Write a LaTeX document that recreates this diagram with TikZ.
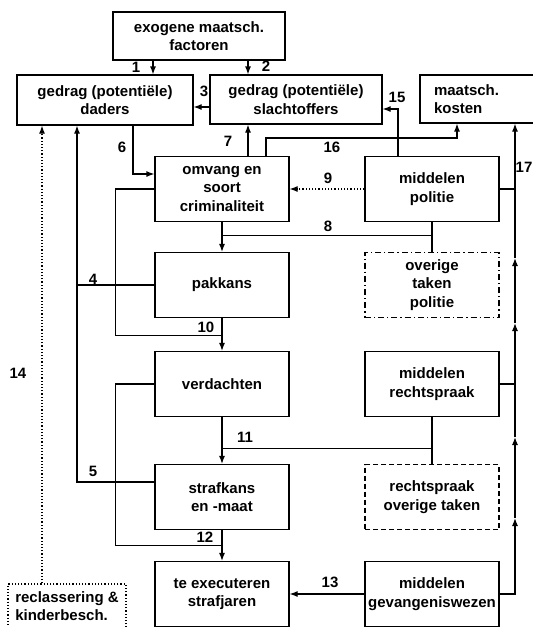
\documentclass[tikz,border=0pt]{standalone}
\usepackage{fontspec}
\setmainfont{Liberation Sans}
\usetikzlibrary{arrows.meta}

\begin{document}
\begin{tikzpicture}[x=0.5pt,y=-0.5pt]
	\tikzstyle{every node}=[font=\fontsize{7.5}{9.25}\selectfont\bfseries]
	\tikzstyle{box}=[draw,line width=0.6pt,align=center,inner sep=1pt,minimum width=67pt,minimum height=32.5pt]
	\tikzstyle{lijn}=[line width=0.6pt]
	\tikzstyle{pijl}=[lijn,-{Latex[length=4pt,width=3pt]}]
	\tikzstyle{nr}=[inner sep=0pt]

	\useasboundingbox (0,0) rectangle (533,627);

	% bovenste rij
	\node[box,minimum width=86pt,minimum height=24pt] (exo) at (199,36) {exogene maatsch.\\factoren};
	\node[box,minimum width=88pt,minimum height=25pt] (daders) at (105,100) {gedrag (potentiële)\\daders};
	\node[box,minimum width=86pt,minimum height=24.5pt] (slacht) at (296,99.5) {gedrag (potentiële)\\slachtoffers};
	\node[box,minimum width=60pt,minimum height=24pt,text width=46pt,align=left] (kosten) at (480,99) {maatsch.\\kosten};

	\node[box] (omvang) at (222,189) {omvang en\\soort\\criminaliteit};
	\node[box] (pakkans) at (222,285) {pakkans};
	\node[box] (verdacht) at (222,384) {verdachten};
	\node[box] (strafkans) at (222,497) {strafkans\\en -maat};
	\node[box] (execut) at (222,594) {te executeren\\strafjaren};

	\node[box] (politie) at (432,189) {middelen\\politie};
	\node[box,dash pattern=on 3pt off 1.5pt on 0.6pt off 1.5pt] (overpol) at (432,285) {overige\\taken\\politie};
	\node[box] (mrecht) at (432,384) {middelen\\rechtspraak};
	\node[box,dash pattern=on 2.5pt off 1.5pt] (overrecht) at (432,497) {rechtspraak\\overige taken};
	\node[box] (gevang) at (432,594) {middelen\\gevangeniswezen};

	\node[box,densely dotted,minimum width=59pt,minimum height=22pt,align=left] (reclass) at (67,606) {reclassering \&\\kinderbesch.};

	\draw[pijl] ([xshift=-23pt]exo.south) coordinate (a1) -- (a1 |- daders.north);
	\draw[pijl] ([xshift=24.5pt]exo.south) coordinate (a2) -- (a2 |- slacht.north);
	\draw[pijl] ([yshift=-3.75pt]slacht.west) coordinate (a3) -- (a3 -| daders.east);
	\draw[pijl] ([xshift=14pt]daders.south) |- ([yshift=7.5pt]omvang.west);
	\draw[pijl] ([xshift=13pt]omvang.north) coordinate (a7) -- (a7 |- slacht.south);
	\draw[pijl] ([xshift=22pt]omvang.north) -- ++(0,-18) -| ([xshift=-11.5pt]kosten.south);
	\draw[pijl] ([xshift=-17pt]politie.north) |- ([yshift=-4.75pt]slacht.east);
	\draw[pijl,densely dotted] (politie.west) -- (omvang.east);

	% politie -> pakkans, en 10
	\draw[lijn] (politie.south) -- (overpol.north);
	\path ([yshift=-6.75pt]politie.south) coordinate (k8);
	\draw[lijn] (k8) -- (k8 -| omvang.south);
	\draw[pijl] (omvang.south) -- (pakkans.north);
	\draw[lijn] (omvang.west) -- ++(-39,0) |- ([yshift=-8.75pt]pakkans.south);
	\draw[pijl] (pakkans.south) -- (verdacht.north);

	\path ([xshift=-14pt]daders.south) coordinate (v45);
	\draw[lijn] (pakkans.west) -- (pakkans.west -| v45);
	\draw[pijl] ([yshift=7.5pt]strafkans.west) -| (v45);

	\draw[lijn] (mrecht.south) -- (overrecht.north);
	\path ([yshift=-15.5pt]mrecht.south) coordinate (k11);
	\draw[lijn] (k11) -- (k11 -| verdacht.south);
	\draw[pijl] (verdacht.south) -- (strafkans.north);
	\draw[lijn] (verdacht.west) -- ++(-39,0) |- ([yshift=-7.75pt]strafkans.south);
	\draw[pijl] (strafkans.south) -- (execut.north);
	\draw[pijl] (gevang.west) -- (execut.east);

	\draw[pijl,densely dotted] ([xshift=-12.5pt]reclass.north) coordinate (a14) -- (a14 |- daders.south);

	% 17: alle middelen naar maatsch. kosten
	\path ([xshift=17.5pt]kosten.south) coordinate (k17);
	\draw[lijn] (politie.east) -- (politie.east -| k17);
	\draw[lijn] (mrecht.east) -- (mrecht.east -| k17);
	\draw[pijl] (gevang.east) -| (515,518);
	\foreach \a/\b in {518/437,437/323,323/258} \draw[pijl] (515,\a) -- (515,\b);
	\draw[pijl] (515,258) -- (k17);

	\node[nr] (l1) at (136,67) {1};
	\node[nr] (l2) at (266,66) {2};
	\node[nr] (l3) at (204,91) {3};
	\node[nr] (l4) at (93,279) {4};
	\node[nr] (l5) at (93,471) {5};
	\node[nr] (l6) at (122,147) {6};
	\node[nr] (l7) at (228,141) {7};
	\node[nr] (l8) at (328,226) {8};
	\node[nr] (l9) at (328,178) {9};
	\node[nr] (l10) at (206,327) {10};
	\node[nr] (l11) at (245,437) {11};
	\node[nr] (l12) at (205,537) {12};
	\node[nr] (l13) at (330,582) {13};
	\node[nr] (l14) at (18,373) {14};
	\node[nr] (l15) at (397,97) {15};
	\node[nr] (l16) at (332,147) {16};
	\node[nr] (l17) at (524,167) {17};
\end{tikzpicture}
\end{document}
